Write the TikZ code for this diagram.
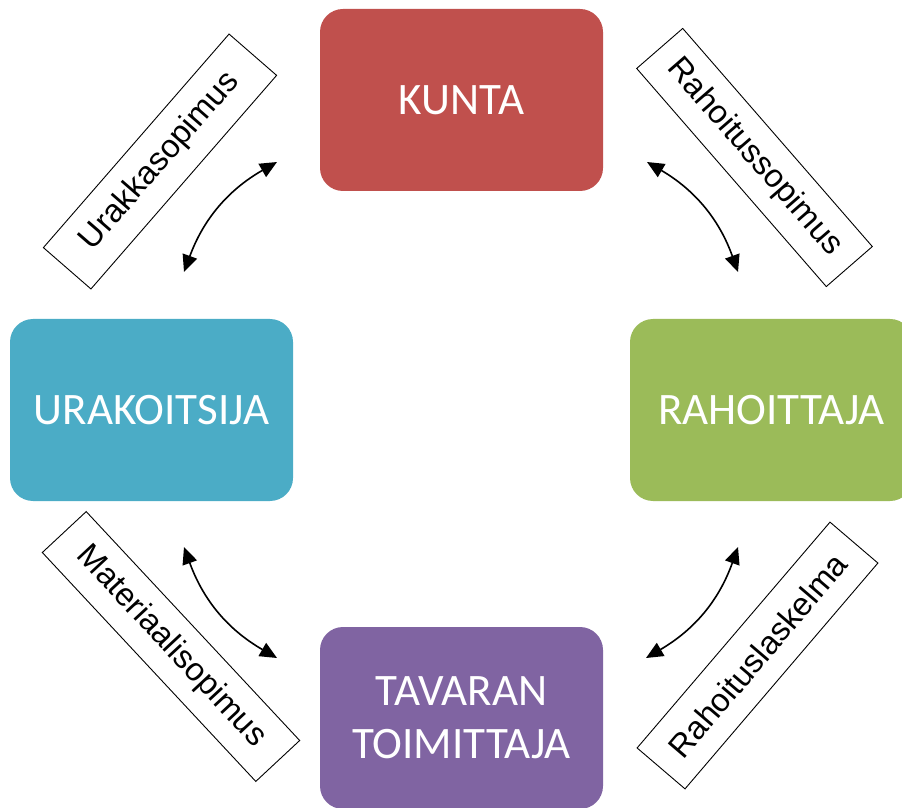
\documentclass[tikz,border=0pt]{standalone}
\usepackage{fontspec}
\setmainfont{Carlito}
\newfontfamily\arialf{Liberation Sans}
\usetikzlibrary{arrows.meta}
\definecolor{kred}{HTML}{C0504D}
\definecolor{kblue}{HTML}{4BACC6}
\definecolor{kgreen}{HTML}{9BBB59}
\definecolor{kpurple}{HTML}{8064A2}
\tikzset{
  party/.style={rounded corners=23pt, minimum width=283pt, minimum height=182pt,
    inner sep=0pt, text=white, align=center, font=\fontsize{45}{53}\selectfont},
  contract/.style={draw=black, line width=0.9pt, fill=white, inner sep=0pt,
    font=\arialf\fontsize{32.5}{36}\selectfont},
  relarrow/.style={line width=1.6pt, {Triangle[length=17pt,width=15pt]}-{Triangle[length=17pt,width=15pt]}}
}
\begin{document}
\begin{tikzpicture}[x=1pt,y=1pt]
\useasboundingbox (0,0) rectangle (902,807);
\clip (0,0) rectangle (902,807);
% parties
\node[party, fill=kred] (kunta) at (461.5,707) {KUNTA};
\node[party, fill=kblue] (urak) at (151.5,397) {URAKOITSIJA};
\node[party, fill=kgreen] (rah) at (771.5,397) {RAHOITTAJA};
\node[party, fill=kpurple] (tav) at (461.5,89) {TAVARAN\\TOIMITTAJA};
% contracts
\node[contract, minimum width=283pt, minimum height=63pt, rotate=49] (l1) at (160,645.5) {Urakkasopimus};
\node[contract, minimum width=289pt, minimum height=61pt, rotate=-49] (l2) at (754.5,649.5) {Rahoitussopimus};
\node[contract, minimum width=313pt, minimum height=60pt, rotate=-47] (l3) at (171,160.5) {Materiaalisopimus};
\node[contract, minimum width=297pt, minimum height=63pt, rotate=49.5] (l4) at (757.5,151.5) {Rahoituslaskelma};
% arrow ends
\coordinate (a1s) at (184,535);
\coordinate (a1e) at (277,645);
\coordinate (a2s) at (647,645);
\coordinate (a2e) at (738,535);
\coordinate (a3s) at (184,260);
\coordinate (a3e) at (277,149);
\coordinate (a4s) at (646,149);
\coordinate (a4e) at (738,260);
\draw[relarrow] (a1s) to[bend left=20] (a1e);
\draw[relarrow] (a2s) to[bend left=20] (a2e);
\draw[relarrow] (a3s) to[bend right=20] (a3e);
\draw[relarrow] (a4s) to[bend right=20] (a4e);
\end{tikzpicture}
\end{document}
